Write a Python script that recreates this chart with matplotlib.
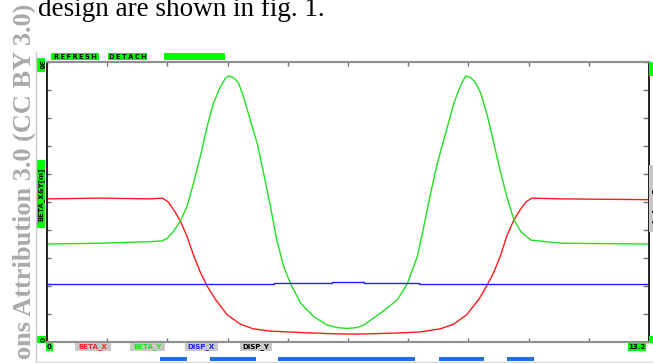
import numpy as np
import matplotlib
matplotlib.use("Agg")
import matplotlib.pyplot as plt
from matplotlib.transforms import blended_transform_factory
from matplotlib.patches import Rectangle

# ---- data ----
s_betax = [0.0, 1.16, 2.26, 2.53, 2.66, 2.81, 2.92, 3.07, 3.21, 3.36, 3.51, 3.69, 3.95, 4.24,
           4.52, 4.90, 5.27, 5.78, 6.44, 6.94, 7.69, 8.19, 8.63, 8.92, 9.20, 9.47, 9.64, 9.80,
           9.95, 10.08, 10.23, 10.34, 10.50, 10.63, 11.27, 13.2]
betax = [18.4, 18.5, 18.4, 18.5, 18.0, 16.7, 15.6, 13.6, 11.2, 9.0, 7.2, 5.5, 3.5, 2.3,
         1.7, 1.4, 1.3, 1.16, 1.03, 1.03, 1.16, 1.3, 1.7, 2.3, 3.5, 5.5, 7.2, 9.0,
         11.2, 13.6, 15.6, 16.7, 18.0, 18.5, 18.4, 18.3]

s_betay = [0.0, 1.16, 2.26, 2.52, 2.63, 2.77, 2.92, 3.07, 3.21, 3.36, 3.51, 3.65, 3.80, 3.91,
           3.98, 4.09, 4.20, 4.31, 4.46, 4.61, 4.75, 4.90, 5.04, 5.19, 5.34, 5.56, 5.85, 6.14,
           6.36, 6.58, 6.80, 6.95, 7.31, 7.68, 7.90, 8.12, 8.26, 8.41, 8.56, 8.78, 8.92, 9.07,
           9.18, 9.29, 9.40, 9.51, 9.66, 9.80, 9.95, 10.10, 10.24, 10.39, 10.61, 11.27, 13.2]
betay = [12.6, 12.7, 12.9, 13.0, 13.3, 14.2, 15.5, 17.4, 20.4, 23.8, 27.7, 30.7, 32.8, 33.9,
         34.2, 34.0, 33.3, 31.5, 28.5, 25.5, 21.7, 17.4, 13.1, 9.7, 7.5, 5.0, 3.25, 2.2,
         1.85, 1.75, 1.85, 2.2, 3.7, 5.4, 7.5, 11.0, 14.8, 19.1, 23.0, 27.7, 30.7, 33.0,
         34.2, 34.0, 33.3, 32.0, 29.0, 25.5, 21.7, 18.3, 15.7, 14.2, 13.1, 12.7, 12.6]

s_dispx = [0.0, 3.51, 3.51, 4.97, 4.97, 6.24, 6.24, 6.94, 6.94, 8.15, 8.15, 9.66, 9.66, 13.2]
dispx = [0.207, 0.207, 0.208, 0.208, 0.212, 0.212, 0.216, 0.216, 0.212, 0.212, 0.208, 0.208, 0.207, 0.207]

magnet_start = [2.48, 3.58, 5.07, 8.59, 10.08]
magnet_end = [3.07, 4.58, 8.08, 9.58, 10.67]

legend_names = ["BETA_X", "BETA_Y", "DISP_X", "DISP_Y"]
legend_colors = ["#ff2020", "#22dd22", "#2222ff", "#000000"]
legend_x0 = [75, 130, 185, 240]
legend_x1 = [111, 165, 218, 272]

W, H = 653, 363
fig = plt.figure(figsize=(W / 100, H / 100), dpi=100)
fig.patch.set_facecolor("white")


def fx(x):
    return x / W


def fy(y):
    return 1 - y / H


ax_l, ax_r, ax_t, ax_b = 47, 649, 62, 342
ax = fig.add_axes([fx(ax_l), fy(ax_b), fx(ax_r - ax_l), (ax_b - ax_t) / H])
ax.set_xlim(0, 13.2)
ax.set_ylim(0, 36)
ax2 = ax.twinx()
ax2.set_ylim(0, 1)

ax.plot(s_betax, betax, color="#ff1a1a", lw=1.0)
ax.plot(s_betay, betay, color="#22e022", lw=1.0)
ax2.plot(s_dispx, dispx, color="#2020ff", lw=1.0)

ax.set_xticks(np.linspace(0, 13.2, 11))
ax.set_yticks(np.linspace(0, 36, 11))
ax2.set_yticks(np.linspace(0, 1, 11))
ax.set_xticklabels([])
ax.set_yticklabels([])
ax2.set_yticklabels([])
ax.tick_params(axis="x", top=True, bottom=True, direction="in", length=3, color="#707070", width=1)
ax.tick_params(axis="y", left=True, direction="in", length=3, color="#707070", width=1)
ax2.tick_params(axis="y", right=True, direction="in", length=4, color="#707070", width=1)
for a in (ax, ax2):
    a.spines["top"].set_color("#909090")
    a.spines["top"].set_linewidth(1.5)
    a.spines["bottom"].set_color("#909090")
    a.spines["bottom"].set_linewidth(1.5)
    a.spines["left"].set_color("#202020")
    a.spines["left"].set_linewidth(1.2)
    a.spines["right"].set_color("#202020")
    a.spines["right"].set_linewidth(1.2)

# magnets below the axis
tr = blended_transform_factory(ax.transData, fig.transFigure)
for a0, a1 in zip(magnet_start, magnet_end):
    fig.patches.append(Rectangle((a0, fy(361)), a1 - a0, 4 / H, transform=tr,
                                 facecolor="#1a74e8", edgecolor="none"))

lab_font = dict(family="DejaVu Sans", fontweight="bold")


def boxed(xc, yc, text, color, bg, rot=0, x0=None, x1=None, y0=None, y1=None, size=5.0):
    if x0 is not None:
        fig.patches.append(Rectangle((fx(x0), fy(y1)), (x1 - x0) / W, (y1 - y0) / H,
                                     transform=fig.transFigure, facecolor=bg, edgecolor="none"))
    fig.text(fx(xc), fy(yc), text, color=color, ha="center", va="center",
             rotation=rot, fontsize=size, **lab_font)


hs = "\u2009"
# top buttons
boxed(75, 56.8, hs.join("REFRESH"), "#000000", "#00ff00", x0=51, x1=99, y0=53, y1=60, size=4.9)
boxed(127.5, 56.8, hs.join("DETACH"), "#000000", "#00ff00", x0=108, x1=147, y0=53, y1=60, size=4.9)
boxed(195, 56.5, "", "#000000", "#00ff00", x0=164, x1=225, y0=53, y1=60)

# axis value labels
boxed(41, 65, "36", "#000000", "#00ff00", rot=270, x0=37, x1=45, y0=58, y1=72)
boxed(41, 339.5, "0", "#000000", "#00ff00", rot=270, x0=37, x1=46, y0=336, y1=343)
boxed(41, 194, "BETA_X&Y[m]", "#000000", "#00ff00", rot=90, x0=37, x1=45, y0=160, y1=228)
boxed(49.5, 347, "0", "#000000", "#00ff00", x0=46, x1=53, y0=343, y1=351)
boxed(637, 347, "13.2", "#000000", "#00ff00", x0=628, x1=646, y0=343, y1=351)
boxed(654, 68, "0.1", "#000000", "#00ff00", rot=270, x0=649, x1=660, y0=62, y1=76)
boxed(654, 339.5, "0", "#000000", "#00ff00", rot=270, x0=649, x1=660, y0=336, y1=343)
boxed(655, 198, "DISP_X&Y[m]", "#000000", "#c8c8c8", rot=270, x0=649, x1=662, y0=165, y1=232)

# legend
for name, col, a0, a1 in zip(legend_names, legend_colors, legend_x0, legend_x1):
    boxed((a0 + a1) / 2, 347, name, col, "#c8c8c8", x0=a0, x1=a1, y0=343, y1=351)

# page elements around the chart
fig.add_artist(plt.Line2D([fx(36), fx(36)], [fy(52), fy(363)], transform=fig.transFigure,
                          color="#c8c8c8", lw=1))
fig.add_artist(plt.Line2D([fx(36), fx(653)], [fy(362), fy(362)], transform=fig.transFigure,
                          color="#d8d8d8", lw=1))
fig.text(fx(38), fy(16.5), "design are shown in fig. 1.", family="Liberation Serif",
         fontsize=19.5, color="#000000", ha="left", va="baseline")
fig.text(fx(31), fy(4), "ons Attribution 3.0 (CC BY 3.0)", family="Liberation Serif",
         fontweight="bold", fontsize=19, color="#aaaaaa", rotation=90,
         rotation_mode="anchor", ha="right", va="baseline")

fig.savefig("out.png", dpi=100)
